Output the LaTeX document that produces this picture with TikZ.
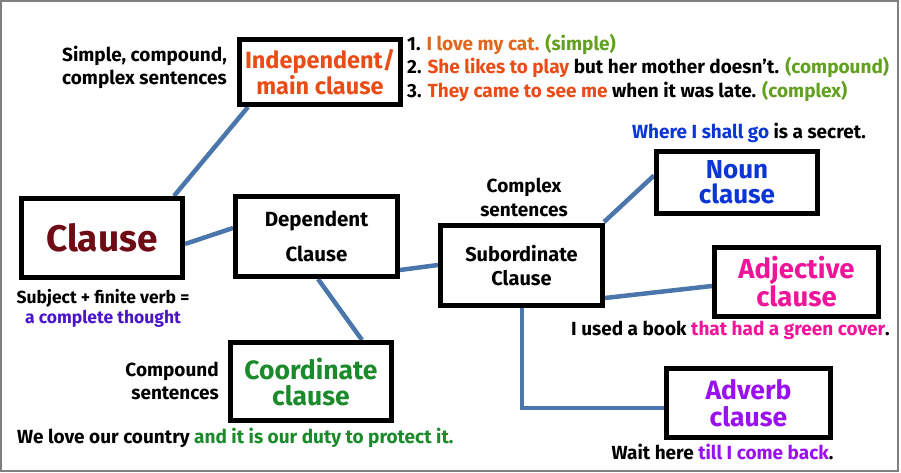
\documentclass[tikz,border=0pt]{standalone}
\usepackage{fontspec}
\setmainfont{Fira Sans}
\usetikzlibrary{backgrounds}
\definecolor{conn}{HTML}{4A76AC}
\definecolor{indcol}{HTML}{EA4C16}
\definecolor{ind1}{HTML}{E2661C}
\definecolor{olive}{HTML}{62A020}
\definecolor{clausecol}{HTML}{6E0B14}
\definecolor{thought}{HTML}{4A14C8}
\definecolor{coordcol}{HTML}{1A8A2A}
\definecolor{nouncol}{HTML}{0A36D4}
\definecolor{adjcol}{HTML}{F0149B}
\definecolor{advcol}{HTML}{9A10F0}
\definecolor{frame}{HTML}{808080}
\tikzset{
  box/.style={draw=black, line width=5pt, fill=white, align=center, inner sep=0pt},
  link/.style={draw=conn, line width=4.5pt},
  note/.style={inner sep=0pt, align=center, font=\bfseries\fontsize{19}{23.5}\selectfont},
}
\begin{document}
\begin{tikzpicture}[x=1pt,y=-1pt]
\useasboundingbox (0,0) rectangle (901,473);
\draw[frame, line width=2pt] (1,1) rectangle (898,471);

\node[box, minimum width=161pt, minimum height=65pt, font=\bfseries\fontsize{23.5}{24}\selectfont, text=indcol] (indep) at (320,72) {Independent/\\main clause};
\node[box, minimum width=161pt, minimum height=79pt, font=\bfseries\fontsize{37}{37}\selectfont, text=clausecol] (clause) at (102,238) {Clause};
\node[box, minimum width=162pt, minimum height=80pt, font=\bfseries\fontsize{20.5}{35}\selectfont] (dep) at (316.5,236.5) {Dependent\\Clause};
\node[box, minimum width=161pt, minimum height=78pt, font=\bfseries\fontsize{26.5}{26}\selectfont, text=coordcol] (coord) at (311,381.5) {Coordinate\\clause};
\node[box, minimum width=162pt, minimum height=80pt, font=\bfseries\fontsize{20}{24}\selectfont] (sub) at (521.5,265.5) {Subordinate\\Clause};
\node[box, minimum width=161pt, minimum height=62pt, font=\bfseries\fontsize{26}{25}\selectfont, text=nouncol] (noun) at (737,182.5) {Noun\\clause};
\node[box, minimum width=164pt, minimum height=69pt, font=\bfseries\fontsize{27.5}{28}\selectfont, text=adjcol] (adj) at (796.5,282) {Adjective\\clause};
\node[box, minimum width=164pt, minimum height=69pt, font=\bfseries\fontsize{26.5}{27}\selectfont, text=advcol] (adv) at (748.5,403) {Adverb\\clause};

\begin{scope}[on background layer]
\draw[link] ([xshift=72pt]clause.north) -- ([xshift=11pt]indep.south west);
\draw[link] ([yshift=-6pt]clause.east) -- ([yshift=8.5pt]dep.west);
\draw[link] ([xshift=1.5pt]dep.south) -- ([xshift=51pt]coord.north);
\draw[link] ([yshift=-33.5pt]dep.east) -- ([yshift=0.5pt]sub.west);
\draw[link] ([xshift=-1pt,yshift=1pt]sub.north east) -- ([yshift=7pt]noun.west);
\draw[link] ([yshift=-32.5pt]sub.east) -- ([yshift=-4pt]adj.west);
\draw[link] ([xshift=0.5pt]sub.south) |- ([yshift=-5pt]adv.west);
\end{scope}

\node[note] (n1) at (144.5,67.5) {Simple, compound,\\complex sentences};
\node[note, anchor=west, align=left] (n2) at (407,67.5) {1. \textcolor{ind1}{I love my cat.} \textcolor{olive}{(simple)}\\
2. \textcolor{indcol}{She likes to play} but her mother doesn’t. \textcolor{olive}{(compound)}\\
3. \textcolor{indcol}{They came to see me} when it was late. \textcolor{olive}{(complex)}};
\node[note, font=\bfseries\fontsize{17.5}{20}\selectfont] (n3) at (103,308) {Subject + finite verb =\\\textcolor{thought}{a complete thought}};
\node[note, align=right, anchor=east] (n4) at (219,381) {Compound\\sentences};
\node[note, anchor=west] (n5) at (17,438) {We love our country \textcolor{coordcol}{and it is our duty to protect it.}};
\node[note] (n6) at (524,197.5) {Complex\\sentences};
\node[note] (n7) at (749,133) {\textcolor{nouncol}{Where I shall go} is a secret.};
\node[note] (n8) at (730.5,330) {I used a book \textcolor{adjcol}{that had a green cover}.};
\node[note] (n9) at (722.5,452) {Wait here \textcolor{advcol}{till I come back}.};
\end{tikzpicture}
\end{document}
